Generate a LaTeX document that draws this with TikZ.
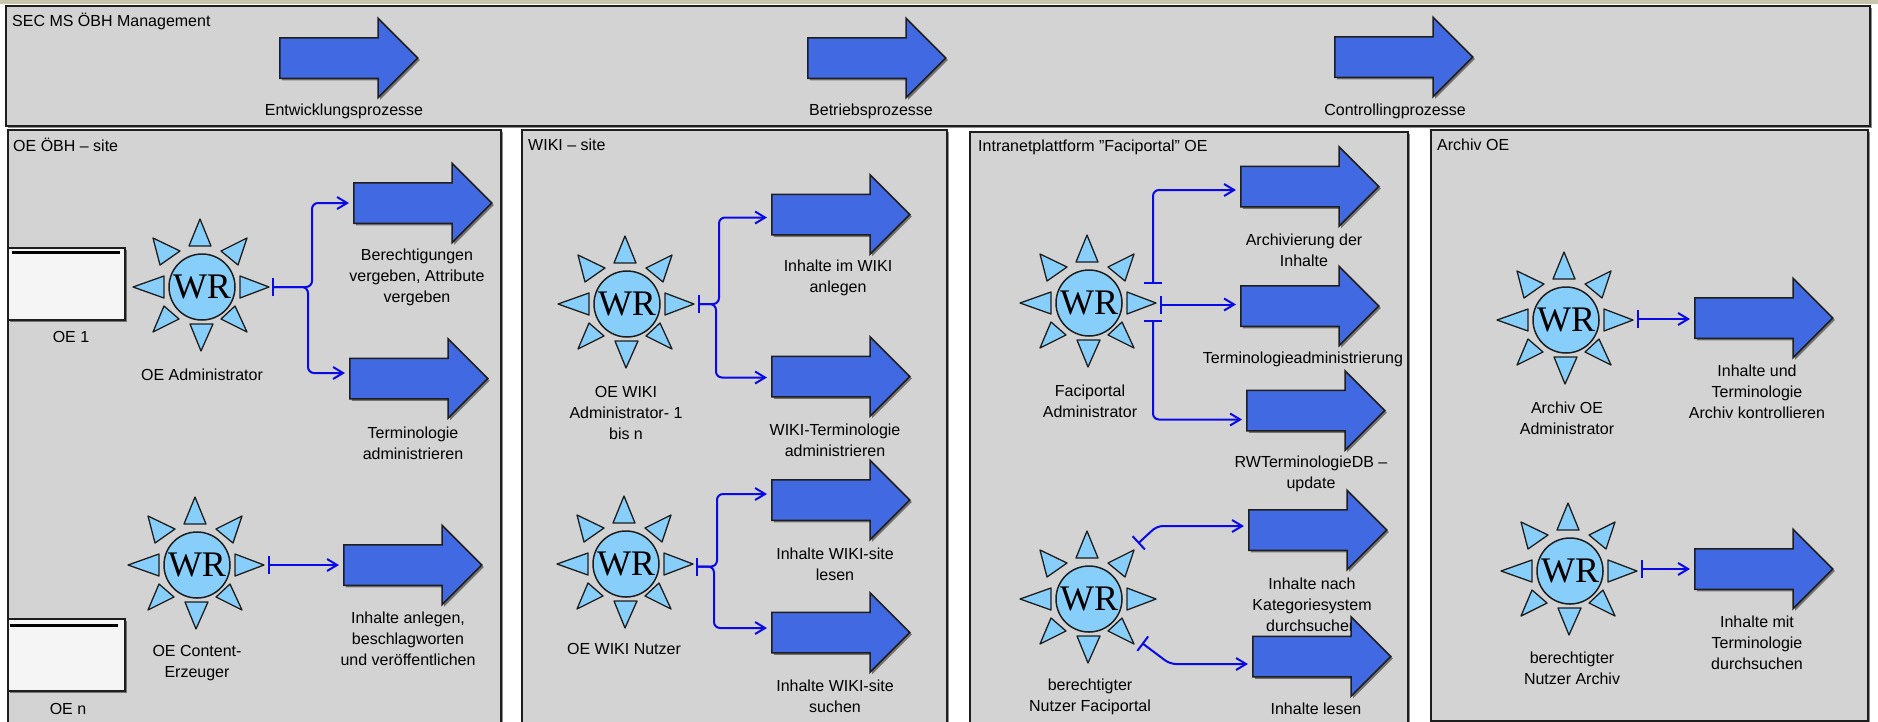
\documentclass[tikz,border=0pt]{standalone}
\usepackage{fontspec}
\setmainfont{Liberation Sans}
\newfontfamily\wrfont{Liberation Serif}
\usetikzlibrary{calc,arrows.meta,shapes.arrows,shadows}
\definecolor{panelgray}{HTML}{D3D3D3}
\definecolor{royal}{HTML}{4169E1}
\definecolor{sky}{HTML}{87CEFA}
\definecolor{linkblue}{HTML}{0A0AE6}
\definecolor{topstrip}{HTML}{C9C5AC}
\definecolor{boxwhite}{HTML}{F5F5F5}
\definecolor{edge}{HTML}{1E1E1E}
\tikzset{
  softshadow/.style={drop shadow={shadow xshift=2pt,shadow yshift=-2pt,fill=black,opacity=.45}},
  panel/.style={rectangle,anchor=north west,draw=edge,line width=1.8pt,fill=panelgray,inner sep=0pt,softshadow},
  bigarrow/.style={single arrow,anchor=tail,draw=edge,line width=1.5pt,fill=royal,inner sep=0pt,
    text height=39pt,text depth=0pt,
    minimum height=138pt,minimum width=78pt,single arrow head extend=19.5pt,single arrow head indent=0pt,
    single arrow tip angle=90,softshadow},
  lab/.style={align=center,inner sep=0pt,text=black,font=\fontsize{16}{21}\selectfont},
  titlelab/.style={lab,anchor=west},
  oebox/.style={rectangle,anchor=north west,draw=edge,line width=1.5pt,fill=boxwhite,inner sep=0pt,softshadow},
  ray/.style={draw=edge,line width=1.3pt,fill=sky,line join=round},
  sunbody/.style={circle,draw=edge,line width=1.5pt,fill=sky,minimum size=66pt,inner sep=0pt,font=\fontsize{36}{36}\selectfont\wrfont},
  conn/.style={draw=linkblue,line width=2pt,rounded corners=6pt,shorten >=4pt,
    {Bar[width=18pt,line width=2pt]}-{Straight Barb[length=10pt,width=12pt,line width=2pt]}},
}
\newcommand{\sunfig}[3]{%
  \begin{scope}[shift={(#2,#3)}]
    \draw[ray] (-2,-68) -- (-13,-41) -- (9,-41) -- cycle;
    \draw[ray] (-1,64) -- (-12,37) -- (11,37) -- cycle;
    \draw[ray] (-69,0) -- (-38,-11) -- (-38,11) -- cycle;
    \draw[ray] (67,0) -- (38,-11) -- (38,11) -- cycle;
    \draw[ray] (-49,-49) -- (-22,-36) -- (-42,-22) -- cycle;
    \draw[ray] (45,-49) -- (19,-36) -- (36,-22) -- cycle;
    \draw[ray] (-49,45) -- (-23,32) -- (-38,19) -- cycle;
    \draw[ray] (45,45) -- (19,32) -- (33,19) -- cycle;
    \node[sunbody] (#1) at (0,0) {WR};
  \end{scope}}
\begin{document}
\begin{tikzpicture}[x=1pt,y=-1pt]
\useasboundingbox (0,0) rectangle (1878,721);
\clip (0,0) rectangle (1878,721);
\fill[topstrip] (0,0) rectangle (1878,4);

% panels
\node[panel,minimum width=1864pt,minimum height=120pt] (ptop) at (5,5) {};
\node[panel,minimum width=493pt,minimum height=600pt] (poe) at (7,129) {};
\node[panel,minimum width=425pt,minimum height=600pt] (pwiki) at (521,129) {};
\node[panel,minimum width=438pt,minimum height=600pt] (pfaci) at (969,131) {};
\node[panel,minimum width=437pt,minimum height=591pt] (parch) at (1430,129) {};

% titles
\node[titlelab] (ttop) at (12,21) {SEC MS ÖBH Management};
\node[titlelab] (toe) at (13,145) {OE ÖBH – site};
\node[titlelab] (twiki) at (528,145) {WIKI – site};
\node[titlelab] (tfaci) at (978,147) {Intranetplattform "Faciportal" OE};
\node[titlelab] (tarch) at (1437,145) {Archiv OE};

% labels
\node[lab] (l1) at (344,111) {Entwicklungsprozesse};
\node[lab] (l2) at (871,111) {Betriebsprozesse};
\node[lab] (l3) at (1395,111) {Controllingprozesse};
\node[lab] (l4) at (417,277) {Berechtigungen\\vergeben, Attribute\\vergeben};
\node[lab] (l5) at (413,443.5) {Terminologie\\administrieren};
\node[lab] (l6) at (202,375) {OE Administrator};
\node[lab] (l7) at (71,337) {OE 1};
\node[lab] (l8) at (68,709) {OE n};
\node[lab] (l9) at (197,663) {OE Content-\\Erzeuger};
\node[lab] (l10) at (408,638.5) {Inhalte anlegen,\\beschlagworten\\und veröffentlichen};
\node[lab] (l11) at (838,278) {Inhalte im WIKI\\anlegen};
\node[lab] (l12) at (835,440) {WIKI-Terminologie\\administrieren};
\node[lab] (l13) at (626,412.5) {OE WIKI\\Administrator- 1\\bis n};
\node[lab] (l14) at (835,564) {Inhalte WIKI-site\\lesen};
\node[lab] (l15) at (835,696.5) {Inhalte WIKI-site\\suchen};
\node[lab] (l16) at (624,649) {OE WIKI Nutzer};
\node[lab] (l17) at (1304,250.5) {Archivierung der\\Inhalte};
\node[lab] (l18) at (1303,359) {Terminologieadministrierung};
\node[lab] (l19) at (1311,474) {RWTerminologieDB –\\update};
\node[lab] (l20) at (1312,605) {Inhalte nach\\Kategoriesystem\\durchsuchen};
\node[lab] (l21) at (1316,709) {Inhalte lesen};
\node[lab] (l22) at (1090,401) {Faciportal\\Administrator};
\node[lab] (l23) at (1090,697) {berechtigter\\Nutzer Faciportal};
\node[lab] (l24) at (1757,392) {Inhalte und\\Terminologie\\Archiv kontrollieren};
\node[lab] (l25) at (1567,418.5) {Archiv OE\\Administrator};
\node[lab] (l26) at (1757,642.5) {Inhalte mit\\Terminologie\\durchsuchen};
\node[lab] (l27) at (1572,668.5) {berechtigter\\Nutzer Archiv};

% OE boxes
\node[oebox,minimum width=117pt,minimum height=72pt] (oe1) at (7,247) {};
\node[oebox,minimum width=117pt,minimum height=72pt] (oen) at (7,618) {};
\fill[black] (12,250.5) rectangle (120,253.5);
\fill[black] (10,623.5) rectangle (118,626.5);

% block arrows
\node[bigarrow] (t1) at (279,58) {};
\node[bigarrow] (t2) at (807,58) {};
\node[bigarrow] (t3) at (1334,57) {};
\node[bigarrow] (a1) at (353,203) {};
\node[bigarrow] (a2) at (349,378.5) {};
\node[bigarrow] (a3) at (343,565) {};
\node[bigarrow] (a4) at (771,214.5) {};
\node[bigarrow] (a5) at (771,376.5) {};
\node[bigarrow] (a6) at (771,500) {};
\node[bigarrow] (a7) at (771,632.5) {};
\node[bigarrow] (a8) at (1240,186.5) {};
\node[bigarrow] (a9) at (1240,306) {};
\node[bigarrow] (a10) at (1246,410.5) {};
\node[bigarrow] (a11) at (1248,530) {};
\node[bigarrow] (a12) at (1252,656.5) {};
\node[bigarrow] (a13) at (1694,318) {};
\node[bigarrow] (a14) at (1694,569) {};

% actors
\sunfig{s1}{202}{287}
\sunfig{s2}{197}{565}
\sunfig{s3}{627}{304}
\sunfig{s4}{626}{564}
\sunfig{s5}{1089}{303}
\sunfig{s6}{1089}{599}
\sunfig{s7}{1566}{320}
\sunfig{s8}{1570}{571}

% connectors
\draw[conn] ($(s1)+(70,0)$) -- ++(40,0) |- (a1.tail);
\draw[conn] ($(s1)+(70,0)$) -- ++(36,0) |- ($(a2.tail)+(0,-5.5)$);
\draw[conn] ($(s2)+(71,0)$) -- (a3.tail);
\draw[conn] ($(s3)+(71,0)$) -- ++(21,0) |- ($(a4.tail)+(0,3)$);
\draw[conn] ($(s3)+(71,0)$) -- ++(18,0) |- ($(a5.tail)+(0,1)$);
\draw[conn] ($(s4)+(70,2.5)$) -- ++(21,0) |- ($(a6.tail)+(0,-6)$);
\draw[conn] ($(s4)+(70,2.5)$) -- ++(18,0) |- ($(a7.tail)+(0,-4.5)$);
\draw[conn] ($(s5)+(64,-19)$) |- ($(a8.tail)+(0,3.5)$);
\draw[conn] ($(s5)+(71,1.5)$) -- ($(a9.tail)+(0,-1.5)$);
\draw[conn] ($(s5)+(64,16.5)$) |- ($(a10.tail)+(0,9)$);
\draw[conn] ($(s6)+(49,-55.5)$) -- ($(s6)+(68,-73)$) -- ($(a11.tail)+(0,-4)$);
\draw[conn] ($(s6)+(53,44)$) -- ($(s6)+(81,65)$) -- ($(a12.tail)+(0,7.5)$);
\draw[conn] ($(s7)+(71,-1)$) -- ($(a13.tail)+(0,1)$);
\draw[conn] ($(s8)+(71,-2)$) -- (a14.tail);
\end{tikzpicture}
\end{document}
